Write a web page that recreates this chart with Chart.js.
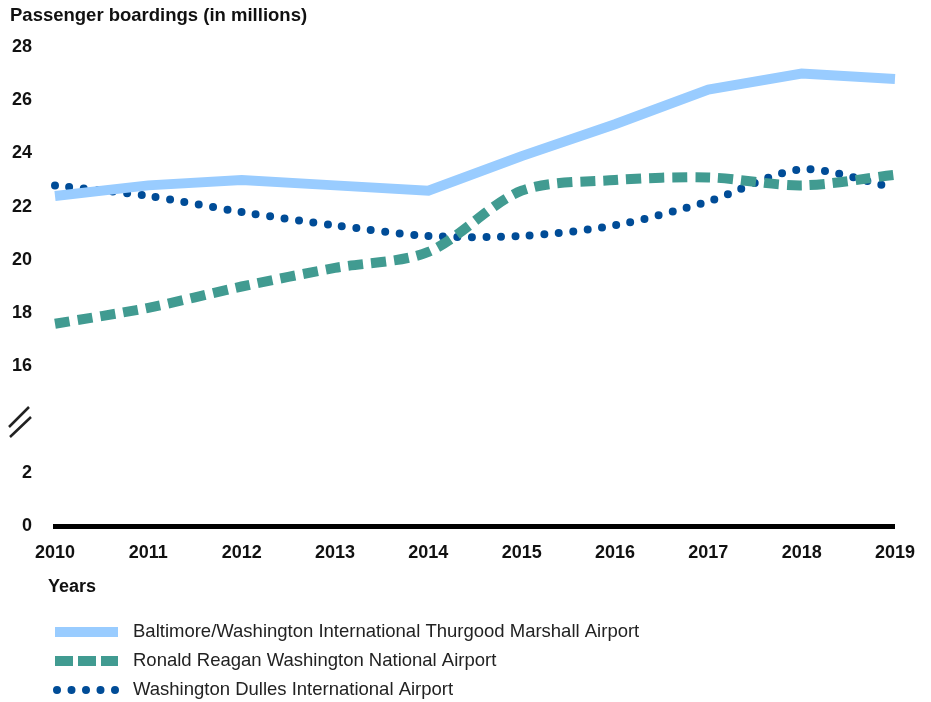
<!DOCTYPE html>
<html>
<head>
<meta charset="utf-8">
<script src="https://cdn.jsdelivr.net/npm/chart.js@4"></script>
<style>
  html, body { margin: 0; padding: 0; background: #fff; }
  #wrap { width: 931px; height: 702px; position: relative; }
</style>
</head>
<body>
<div id="wrap"><canvas id="chart"></canvas></div>
<script>
// data (millions of boardings)
var years = ['2010', '2011', '2012', '2013', '2014', '2015', '2016', '2017', '2018', '2019'];
var bwi = [22.4, 22.8, 23.0, 22.8, 22.6, 23.9, 25.1, 26.4, 27.0, 26.8];
var reagan = [17.6, 18.2, 19.0, 19.7, 20.3, 22.6, 23.0, 23.1, 22.8, 23.2];
var dulles = [22.8, 22.4, 21.8, 21.3, 20.9, 20.9, 21.3, 22.2, 23.4, 22.7];
var seriesNames = [
  'Baltimore/Washington International Thurgood Marshall Airport',
  'Ronald Reagan Washington National Airport',
  'Washington Dulles International Airport'
];
// axis is broken: 10 and 12 on the scale stand for 0 and 2
var tickLabels = {10: '0', 12: '2', 14: ''};

var BOLD = 'bold 18px "Liberation Sans", Arial, sans-serif';
var REG = '18.5px "Liberation Sans", Arial, sans-serif';

var extras = {
  id: 'extras',
  afterDraw: function(chart){
    var ctx = chart.ctx;
    ctx.save();
    ctx.fillStyle = '#111';
    ctx.font = 'bold 18.5px "Liberation Sans", Arial, sans-serif';
    ctx.textBaseline = 'middle';
    ctx.fillText('Passenger boardings (in millions)', 10, 16);
    ctx.font = BOLD;
    ctx.fillText('Years', 48, 587);

    // axis break marks
    ctx.strokeStyle = '#222';
    ctx.lineWidth = 2.5;
    ctx.beginPath();
    ctx.moveTo(9, 427); ctx.lineTo(29, 407);
    ctx.moveTo(10, 437); ctx.lineTo(31, 417);
    ctx.stroke();

    // legend
    var ys = [632, 661, 690];
    chart.data.datasets.forEach(function(ds, i){
      ctx.beginPath();
      ctx.strokeStyle = ds.borderColor;
      ctx.lineWidth = ds.borderWidth;
      ctx.lineCap = ds.borderCapStyle || 'butt';
      ctx.setLineDash(i == 1 ? [18, 5] : (ds.borderDash || []));
      if (i == 2) {
        ctx.moveTo(57, ys[i]); ctx.lineTo(118, ys[i]);
      } else {
        ctx.moveTo(55, ys[i]); ctx.lineTo(118, ys[i]);
      }
      ctx.stroke();
      ctx.setLineDash([]);
      ctx.fillStyle = '#222';
      ctx.font = REG;
      ctx.fillText(seriesNames[i], 133, ys[i]);
    });
    ctx.restore();
  }
};

new Chart(document.getElementById('chart'), {
  type: 'line',
  data: {
    labels: years,
    datasets: [{
      label: seriesNames[0],
      data: bwi,
      borderColor: '#99ccff',
      borderWidth: 10,
      tension: 0,
      pointRadius: 0
    }, {
      label: seriesNames[1],
      data: reagan,
      borderColor: '#419b91',
      borderWidth: 10,
      borderDash: [15, 8],
      tension: 0.3,
      pointRadius: 0
    }, {
      label: seriesNames[2],
      data: dulles,
      borderColor: '#004c97',
      borderWidth: 8,
      borderDash: [0, 14.5],
      borderCapStyle: 'round',
      tension: 0.3,
      pointRadius: 0
    }]
  },
  options: {
    responsive: true,
    maintainAspectRatio: false,
    animation: false,
    layout: { padding: { top: 47, right: 32, left: 0, bottom: 0 } },
    plugins: { legend: { display: false }, tooltip: { enabled: false } },
    scales: {
      x: {
        offset: false,
        grid: { display: false, drawTicks: false },
        border: { display: true, color: '#000', width: 5 },
        ticks: { color: '#111', font: { family: '"Liberation Sans", Arial', size: 18, weight: 'bold' }, padding: 16, maxRotation: 0 },
        afterFit: function(s){ s.height = 176; }
      },
      y: {
        min: 10, max: 28,
        grid: { display: false, drawTicks: false },
        border: { display: false },
        ticks: {
          stepSize: 2,
          color: '#111',
          padding: 23,
          font: { family: '"Liberation Sans", Arial', size: 18, weight: 'bold' },
          callback: function(v){ return v in tickLabels ? tickLabels[v] : v; }
        },
        afterFit: function(s){ s.width = 55; }
      }
    }
  },
  plugins: [extras]
});
</script>
</body>
</html>
